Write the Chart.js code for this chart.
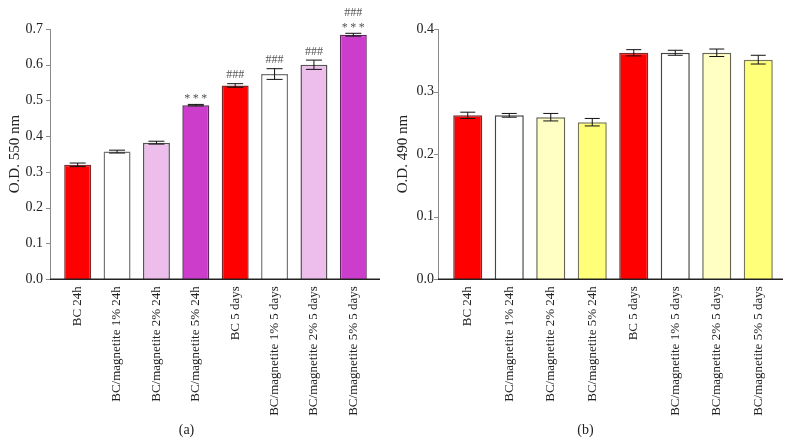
<!DOCTYPE html>
<html>
<head>
<meta charset="utf-8">
<script src="https://cdn.jsdelivr.net/npm/chart.js@4"></script>
<style>
  body { margin: 0; background: #fff; }
  .panel { position: absolute; top: 0; }
</style>
</head>
<body>
<div class="panel" style="left:0"><canvas id="chartA" width="392" height="447"></canvas></div>
<div class="panel" style="left:392px"><canvas id="chartB" width="400" height="447"></canvas></div>
<script>
const categories = [
    'BC 24h', 'BC/magnetite 1% 24h', 'BC/magnetite 2% 24h', 'BC/magnetite 5% 24h',
    'BC 5 days', 'BC/magnetite 1% 5 days', 'BC/magnetite 2% 5 days', 'BC/magnetite 5% 5 days'
];

// panel (a)
const valuesA = [0.320, 0.357, 0.382, 0.487, 0.542, 0.574, 0.600, 0.684];
const errorsA = [0.005, 0.004, 0.004, 0.002, 0.005, 0.015, 0.013, 0.004];
const starsA = ['', '', '', '***', '', '', '', '***'];
const hashesA = ['', '', '', '', '###', '###', '###', '###'];
const colorsA = ['#ff0000', '#ffffff', '#edbdec', '#cc3dcc', '#ff0000', '#ffffff', '#edbdec', '#cc3dcc'];
const bordersA = ['#7a2a2a', '#777777', '#555555', '#5e2a5e', '#7a2a2a', '#777777', '#555555', '#5e2a5e'];

// panel (b)
const valuesB = [0.262, 0.262, 0.259, 0.251, 0.362, 0.362, 0.362, 0.351];
const errorsB = [0.005, 0.003, 0.006, 0.006, 0.005, 0.004, 0.006, 0.007];
const colorsB = ['#ff0000', '#ffffff', '#ffffc4', '#ffff7a', '#ff0000', '#ffffff', '#ffffc4', '#ffff7a'];
const bordersB = ['#7a2a2a', '#444444', '#666655', '#777755', '#7a2a2a', '#444444', '#666655', '#777755'];

const serif = '"Liberation Serif", "DejaVu Serif", serif';

// error bars, significance marks and the axis lines
const decorations = {
    id: 'decorations',
    afterDatasetsDraw(chart, args, opts) {
        const ctx = chart.ctx;
        const ds = chart.data.datasets[0];
        const meta = chart.getDatasetMeta(0);
        const y = chart.scales.y;
        ctx.save();
        ctx.strokeStyle = '#111';
        ctx.lineWidth = 1;
        meta.data.forEach((bar, i) => {
            const v = ds.data[i], e = ds.errors[i];
            const top = y.getPixelForValue(v + e);
            const bot = y.getPixelForValue(v - e);
            const half = opts.cap / 2;
            ctx.beginPath();
            ctx.moveTo(bar.x, top); ctx.lineTo(bar.x, bot);
            ctx.moveTo(bar.x - half, top); ctx.lineTo(bar.x + half, top);
            ctx.moveTo(bar.x - half, bot); ctx.lineTo(bar.x + half, bot);
            ctx.stroke();

            ctx.fillStyle = '#555';
            ctx.font = '12px ' + serif;
            ctx.textAlign = 'center';
            ctx.textBaseline = 'alphabetic';
            const stars = ds.stars ? ds.stars[i] : '';
            const hashes = ds.hashes ? ds.hashes[i] : '';
            if (stars) {
                ctx.letterSpacing = '2.5px';
                ctx.fillText(stars, bar.x + 1.2, top - 2);
                ctx.letterSpacing = '0px';
            }
            if (hashes) ctx.fillText(hashes, bar.x, stars ? top - 17 : top - 5.5);
        });
        ctx.restore();
    },
    afterDraw(chart, args, opts) {
        const ctx = chart.ctx;
        const area = chart.chartArea;
        const y = chart.scales.y;
        const ax = area.left - opts.gap;
        ctx.save();
        ctx.lineWidth = 1;
        ctx.strokeStyle = '#8a8a8a';
        ctx.beginPath();
        ctx.moveTo(ax + 0.5, area.top);
        ctx.lineTo(ax + 0.5, area.bottom);
        y.ticks.forEach((t, i) => {
            const py = Math.round(y.getPixelForTick(i)) + 0.5;
            ctx.moveTo(ax - 4, py);
            ctx.lineTo(ax, py);
        });
        ctx.stroke();
        ctx.strokeStyle = '#222';
        ctx.lineWidth = 1.5;
        ctx.beginPath();
        ctx.moveTo(ax, area.bottom);
        ctx.lineTo(area.right + opts.end, area.bottom);
        ctx.stroke();
        ctx.restore();
    }
};

function makeChart(id, values, errors, stars, hashes, colors, borders, yMax, yTitle, caption, layout) {
    return new Chart(document.getElementById(id).getContext('2d'), {
        type: 'bar',
        data: {
            labels: categories,
            datasets: [{
                data: values,
                errors: errors,
                stars: stars,
                hashes: hashes,
                backgroundColor: colors,
                borderColor: borders,
                borderWidth: 1.5,
                borderSkipped: 'bottom',
                barPercentage: layout.barPct,
                categoryPercentage: 1
            }]
        },
        options: {
            responsive: false,
            animation: false,
            devicePixelRatio: 1,
            layout: { padding: { top: 29, right: layout.right, left: 0, bottom: 0 } },
            scales: {
                x: {
                    grid: { display: false, drawTicks: false },
                    border: { display: false },
                    ticks: {
                        color: '#222',
                        font: { family: serif, size: 13 },
                        minRotation: 90,
                        maxRotation: 90,
                        autoSkip: false,
                        padding: 7
                    },
                    afterFit(scale) { scale.height = 143; }
                },
                y: {
                    min: 0,
                    max: yMax,
                    grid: { display: false, drawTicks: false },
                    border: { display: false },
                    ticks: {
                        stepSize: 0.1,
                        color: '#222',
                        font: { family: serif, size: 14 },
                        padding: layout.tickPad,
                        callback: v => v.toFixed(1)
                    },
                    title: {
                        display: true,
                        text: yTitle,
                        color: '#222',
                        font: { family: serif, size: 15 },
                        padding: { top: layout.titlePad, bottom: 0 }
                    },
                    afterFit(scale) { scale.width = layout.left; }
                }
            },
            plugins: {
                legend: { display: false },
                tooltip: { enabled: false },
                title: {
                    display: true,
                    position: 'bottom',
                    text: caption,
                    color: '#222',
                    font: { family: serif, size: 14, weight: 'normal' },
                    padding: { top: 0, bottom: 8 }
                },
                decorations: { cap: layout.cap, gap: layout.gap, end: layout.end }
            }
        },
        plugins: [decorations]
    });
}

makeChart('chartA', valuesA, errorsA, starsA, hashesA, colorsA, bordersA, 0.7, 'O.D. 550 nm', '(a)',
    { left: 58, right: 19, barPct: 0.685, tickPad: 15, titlePad: 6, cap: 16, gap: 8, end: 7 });
makeChart('chartB', valuesB, errorsB, null, null, colorsB, bordersB, 0.4, 'O.D. 490 nm', '(b)',
    { left: 55, right: 13, barPct: 0.70, tickPad: 13, titlePad: 2, cap: 15, gap: 9, end: 4 });
</script>
</body>
</html>
